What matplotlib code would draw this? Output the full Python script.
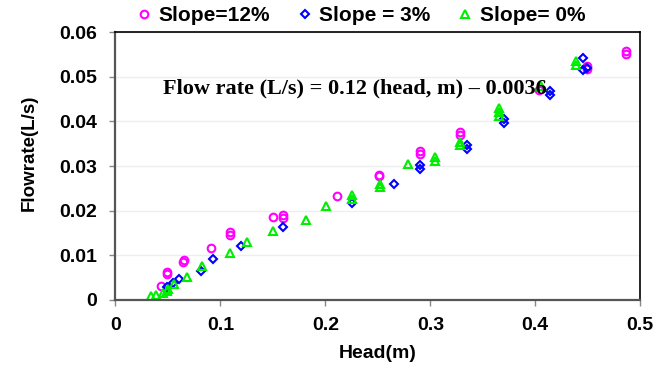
import matplotlib.pyplot as plt

# Slope = 12%
head_12 = [0.043, 0.049, 0.049, 0.064, 0.065, 0.0906, 0.109, 0.109, 0.1505, 0.160, 0.160,
           0.211, 0.251, 0.251, 0.290, 0.290, 0.328, 0.328, 0.404, 0.4495, 0.4495, 0.486, 0.486]
flow_12 = [0.0031, 0.0058, 0.0063, 0.0085, 0.0089, 0.0117, 0.0153, 0.0145, 0.0186, 0.0190, 0.0184,
           0.0234, 0.0280, 0.0277, 0.0334, 0.0327, 0.0377, 0.0370, 0.0470, 0.0523, 0.0517, 0.0558, 0.0550]

# Slope = 3%
head_3 = [0.049, 0.055, 0.0606, 0.081, 0.093, 0.12, 0.160, 0.2255, 0.265, 0.290, 0.290,
          0.335, 0.335, 0.370, 0.370, 0.414, 0.414, 0.4455, 0.4455, 0.4495]
flow_3 = [0.0030, 0.0039, 0.0048, 0.0064, 0.0092, 0.0120, 0.0163, 0.0218, 0.0260, 0.0302, 0.0294,
          0.0347, 0.0338, 0.0406, 0.0397, 0.0467, 0.0460, 0.0543, 0.0516, 0.0520]

# Slope = 0%
head_0 = [0.0335, 0.039, 0.045, 0.049, 0.050, 0.056, 0.068, 0.082, 0.109, 0.1257, 0.1505,
          0.182, 0.2007, 0.2255, 0.2255, 0.252, 0.252, 0.279, 0.304, 0.304, 0.3285, 0.3285,
          0.365, 0.365, 0.365, 0.405, 0.439, 0.439]
flow_0 = [0.0008, 0.0012, 0.0016, 0.0020, 0.0024, 0.0035, 0.0052, 0.0077, 0.0105, 0.0131, 0.0155,
          0.0179, 0.0210, 0.0235, 0.0227, 0.0259, 0.0253, 0.0304, 0.0320, 0.0311, 0.0354, 0.0347,
          0.0431, 0.0421, 0.0413, 0.0480, 0.0535, 0.0526]

x_ticks = [0, 0.1, 0.2, 0.3, 0.4, 0.5]
y_ticks = [0, 0.01, 0.02, 0.03, 0.04, 0.05, 0.06]

plt.rcParams['font.family'] = ['Liberation Sans', 'DejaVu Sans']

fig = plt.figure(figsize=(6.6, 3.69), dpi=100)
ax = fig.add_axes([0.175, 0.187, 0.795, 0.726])

ax.plot(head_12, flow_12, linestyle="none", marker="o", markersize=5.5, markerfacecolor="none",
        markeredgecolor="#ff00ff", markeredgewidth=1.5, label="Slope=12%")
ax.plot(head_3, flow_3, linestyle="none", marker="D", markersize=4, markerfacecolor="none",
        markeredgecolor="#0000ff", markeredgewidth=1.5, label="Slope = 3%")
ax.plot(head_0, flow_0, linestyle="none", marker="^", markersize=5.5, markerfacecolor="none",
        markeredgecolor="#00ee00", markeredgewidth=1.5, label="Slope= 0%")

ax.set_xlim(0, 0.5)
ax.set_ylim(0, 0.06)
ax.set_xticks(x_ticks)
ax.set_xticklabels(["0", "0.1", "0.2", "0.3", "0.4", "0.5"])
ax.set_yticks(y_ticks)
ax.set_yticklabels(["0", "0.01", "0.02", "0.03", "0.04", "0.05", "0.06"])
ax.tick_params(direction="out", length=4, width=1, color="#888888", labelsize=14)
ax.tick_params(axis="x", pad=8)
ax.tick_params(axis="y", pad=9.5)
for lab in ax.get_xticklabels() + ax.get_yticklabels():
    lab.set_fontweight("bold")

ax.grid(axis="y", color="#eeeeee", linewidth=1)
ax.set_axisbelow(True)
for side in ["left", "bottom"]:
    ax.spines[side].set_color("#555555")
    ax.spines[side].set_linewidth(1.6)
for side in ["top", "right"]:
    ax.spines[side].set_color("black")
    ax.spines[side].set_linewidth(1.2)

ax.set_xlabel("Head(m)", fontsize=14, fontweight="bold", labelpad=8)
ax.set_ylabel("Flowrate(L/s)", fontsize=13.5, fontweight="bold")
ax.yaxis.set_label_coords(-0.148, 0.55)

ax.text(0.228, 0.0474, "Flow rate (L/s) = 0.12 (head, m) \u2013 0.0036", ha="center", va="center",
        fontsize=16, fontweight="bold", family=["Liberation Serif", "DejaVu Serif"])

fig.legend(loc="center", bbox_to_anchor=(0.547, 0.958), ncol=3, frameon=False,
           prop={"size": 15, "weight": "bold"}, handletextpad=0.35, columnspacing=1.3,
           handlelength=0.7)

fig.savefig("out.png", dpi=100)
